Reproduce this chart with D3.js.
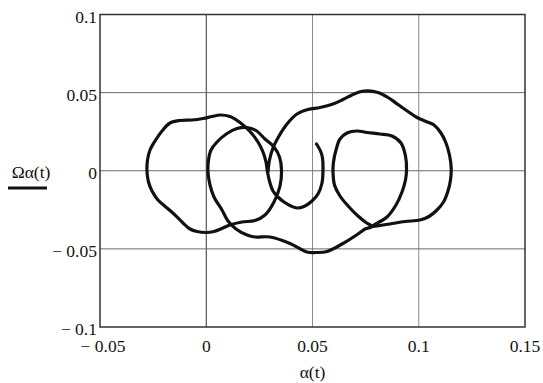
<!DOCTYPE html>
<html>
<head>
<meta charset="utf-8">
<script src="https://cdn.jsdelivr.net/npm/d3@7"></script>
<style>
  body { margin: 0; background: #fff; }
  svg text { font-family: "Times New Roman", Times, "Liberation Serif", serif; }
</style>
</head>
<body>
<svg id="chart" width="543" height="383"></svg>
<script>
// Axis domains and tick values
const xDomain = [-0.05, 0.15];
const yDomain = [-0.1, 0.1];
const xTicks = [-0.05, 0, 0.05, 0.1, 0.15];
const yTicks = [-0.1, -0.05, 0, 0.05, 0.1];
const xTitle = "α(t)";
const yTitle = "Ωα(t)";

// Phase trajectory: angle α(t) against angular rate Ωα(t)
const alpha = [
  0.02906, 0.02976, 0.03141, 0.03424, 0.0380, 0.04271, 0.04788, 0.05353, 0.05965, 0.06435,
  0.06859, 0.07235, 0.07612, 0.08082, 0.08553, 0.09024, 0.09494, 0.09918, 0.10341, 0.10718,
  0.11047, 0.11282, 0.11447, 0.11527, 0.11494, 0.11376, 0.11165, 0.10859, 0.10482, 0.10059,
  0.09353, 0.08647, 0.08176, 0.0780,
  0.08506, 0.08929, 0.09212, 0.09376, 0.09424, 0.09376, 0.09165, 0.08741, 0.08176, 0.07565,
  0.07094, 0.06624, 0.06294, 0.06106, 0.05988, 0.05965, 0.06035, 0.06294, 0.06718, 0.07141,
  0.07518, 0.0780,
  0.07471, 0.07141, 0.06435, 0.05682, 0.05165, 0.04741, 0.03941, 0.0300, 0.02294, 0.01918,
  0.0140, 0.01024, 0.00741, 0.00365, 0.00176, 0.00082, 0.00106, 0.00224, 0.00506, 0.00976,
  0.01447, 0.01918, 0.02341, 0.02765, 0.03188, 0.03447, 0.03541, 0.03471, 0.03188, 0.02765,
  0.02294, 0.01682, 0.01118, 0.00741, 0.00365, -0.00012, -0.00435, -0.00765, -0.01094, -0.01471,
  -0.01847, -0.02271, -0.02553, -0.02718, -0.02788, -0.02765, -0.02647, -0.02412, -0.02082, -0.01706,
  -0.01235, -0.00671, -0.00153, 0.00271, 0.00647, 0.01118, 0.01588, 0.02059, 0.02435, 0.02671,
  0.02812, 0.02882,
  0.0300, 0.03141, 0.03376, 0.03659, 0.03988, 0.04271, 0.0460, 0.04976, 0.05259, 0.05447,
  0.05494, 0.05471, 0.05376, 0.05188
];
const omegaAlpha = [
  -0.0008, 0.00688, 0.01456, 0.02224, 0.02992, 0.03632, 0.0392, 0.04048, 0.04272, 0.0456,
  0.04848, 0.05053, 0.05117, 0.05008, 0.04688, 0.0424, 0.03792, 0.03408, 0.03152, 0.02928,
  0.02416, 0.01776, 0.01008, 0.00176, -0.00592, -0.01296, -0.0200, -0.02512, -0.02928, -0.03152,
  -0.03248, -0.03408, -0.03504, -0.03568,
  -0.0296, -0.02192, -0.0136, -0.00592, 0.00048, 0.00944, 0.01776, 0.02224, 0.02352, 0.02448,
  0.02544, 0.02416, 0.02032, 0.01328, 0.0056, -0.0008, -0.00912, -0.01616, -0.0232, -0.02896,
  -0.03312, -0.03568,
  -0.03728, -0.04048, -0.04656, -0.05168, -0.05232, -0.0520, -0.04656, -0.0424, -0.0424, -0.04112,
  -0.03728, -0.03216, -0.02512, -0.0168, -0.00912, -0.0008, 0.00688, 0.01328, 0.0184, 0.02384,
  0.02704, 0.02768, 0.02576, 0.02032, 0.0152, 0.0088, 0.00048, -0.00976, -0.0200, -0.02832,
  -0.03184, -0.0328, -0.03472, -0.03696, -0.03888, -0.03952, -0.03888, -0.03728, -0.03344, -0.02832,
  -0.02384, -0.01872, -0.01296, -0.0072, -0.0008, 0.00688, 0.01328, 0.01904, 0.02544, 0.03056,
  0.03216, 0.03248, 0.03344, 0.03472, 0.03568, 0.03472, 0.03088, 0.02512, 0.0184, 0.0120,
  0.0056, -0.0008,
  -0.00784, -0.01296, -0.0168, -0.0200, -0.02256, -0.02384, -0.02288, -0.01936, -0.01488, -0.00784,
  0.00048, 0.00816, 0.01264, 0.01712
];

const svg = d3.select("#chart");
const plot = { left: 100, right: 525, top: 14.5, bottom: 327 };

const x = d3.scaleLinear().domain(xDomain).range([plot.left, plot.right]);
const y = d3.scaleLinear().domain(yDomain).range([plot.bottom, plot.top]);

const fmt = v => {
  const s = d3.format("")(Math.abs(+v.toFixed(4)));
  return v < 0 ? "\u2212 " + s : s;
};

// Grid lines
const grid = svg.append("g");
grid.selectAll("line.gx").data(xTicks.slice(1, -1)).join("line")
  .attr("x1", d => x(d)).attr("x2", d => x(d))
  .attr("y1", plot.top).attr("y2", plot.bottom)
  .attr("stroke", d => d === 0 ? "#333" : "#8a8a8a").attr("stroke-width", 1);
grid.selectAll("line.gy").data(yTicks.slice(1, -1)).join("line")
  .attr("y1", d => y(d)).attr("y2", d => y(d))
  .attr("x1", plot.left).attr("x2", plot.right)
  .attr("stroke", "#6a6a6a").attr("stroke-width", 1);

// Plot frame
svg.append("rect")
  .attr("x", plot.left).attr("y", plot.top)
  .attr("width", plot.right - plot.left).attr("height", plot.bottom - plot.top)
  .attr("fill", "none").attr("stroke", "#333").attr("stroke-width", 1.5);

// Tick labels
svg.append("g").attr("fill", "#111").selectAll("text").data(xTicks).join("text")
  .attr("x", d => x(d) + (d < 0 ? 3 : 0)).attr("y", 352)
  .attr("text-anchor", "middle").attr("font-size", 17.5)
  .text(fmt);
svg.append("g").attr("fill", "#111").selectAll("text").data(yTicks).join("text")
  .attr("x", 97).attr("y", d => y(d) + 8)
  .attr("text-anchor", "end").attr("font-size", 17.5)
  .text(fmt);

// Axis titles
svg.append("text").attr("x", x(0.05)).attr("y", 378).attr("fill", "#111")
  .attr("text-anchor", "middle").attr("font-size", 17.5).text(xTitle);
svg.append("text").attr("x", 31).attr("y", 178).attr("fill", "#111")
  .attr("text-anchor", "middle").attr("font-size", 17.5).text(yTitle);
// Trace sample under the y title
svg.append("line").attr("x1", 8).attr("x2", 47).attr("y1", 188).attr("y2", 188)
  .attr("stroke", "#111").attr("stroke-width", 3);

// Trajectory
const pts = d3.zip(alpha, omegaAlpha);
const line = d3.line()
  .x(d => x(d[0])).y(d => y(d[1]))
  .curve(d3.curveCatmullRom.alpha(0.5));
svg.append("path").datum(pts)
  .attr("d", line)
  .attr("fill", "none").attr("stroke", "#111")
  .attr("stroke-width", 3.2).attr("stroke-linejoin", "round").attr("stroke-linecap", "round");
</script>
</body>
</html>
